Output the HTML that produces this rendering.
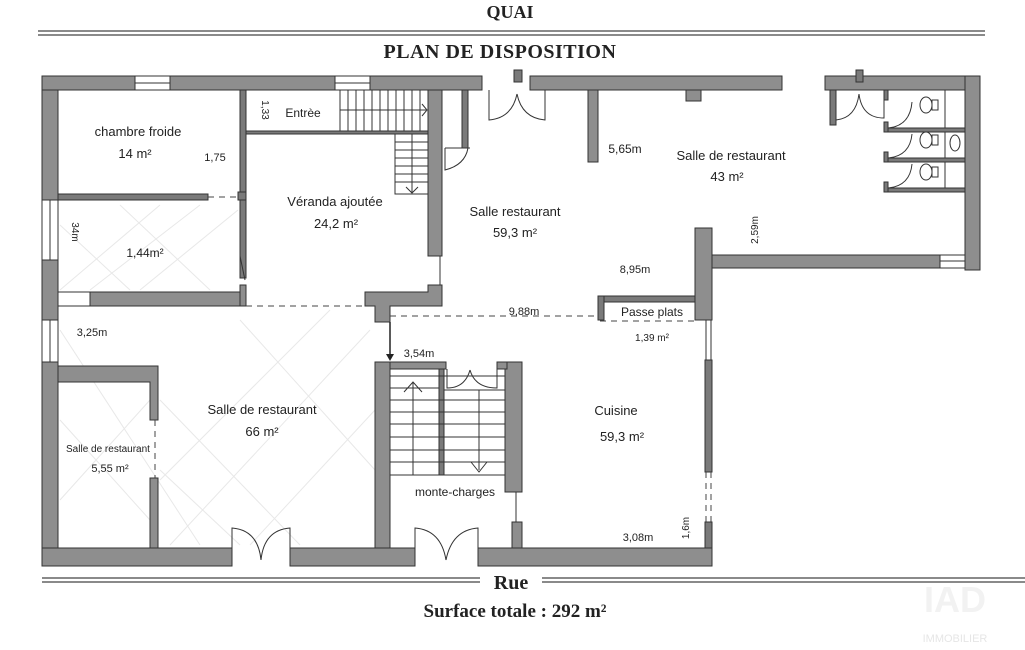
<!DOCTYPE html>
<html><head><meta charset="utf-8"><style>
html,body{margin:0;padding:0;background:#fff;width:1025px;height:650px;overflow:hidden}
svg{display:block}
.w{fill:#8e8e8e;stroke:#333;stroke-width:1}
.t{stroke:#333;stroke-width:1;fill:#7a7a7a}
.l{stroke:#333;stroke-width:1;fill:none}
.d{stroke:#444;stroke-width:1;fill:none;stroke-dasharray:6,5}
.g{stroke:#e8e8e8;stroke-width:1;fill:none}
text{font-family:"Liberation Sans",sans-serif;fill:#222}
.s{font-family:"Liberation Serif",serif;fill:#222}
</style></head><body>
<svg width="1025" height="650" viewBox="0 0 1025 650">
<text class="s" x="510" y="18" font-size="18" font-weight="bold" text-anchor="middle">QUAI</text>
<line x1="38" y1="31" x2="985" y2="31" stroke="#444" stroke-width="1.2"/>
<line x1="38" y1="35" x2="985" y2="35" stroke="#444" stroke-width="1.2"/>
<text class="s" x="500" y="58" font-size="20" font-weight="bold" text-anchor="middle" letter-spacing="0.5">PLAN DE DISPOSITION</text>

<g class="g">
<line x1="60" y1="290" x2="160" y2="205"/><line x1="90" y1="290" x2="200" y2="205"/><line x1="140" y1="290" x2="238" y2="210"/>
<line x1="60" y1="225" x2="130" y2="290"/><line x1="120" y1="205" x2="210" y2="290"/>
<line x1="60" y1="330" x2="200" y2="545"/><line x1="160" y1="400" x2="300" y2="545"/><line x1="160" y1="470" x2="240" y2="545"/>
<line x1="170" y1="545" x2="370" y2="330"/><line x1="160" y1="480" x2="330" y2="310"/><line x1="250" y1="545" x2="375" y2="410"/>
<line x1="60" y1="420" x2="150" y2="520"/><line x1="60" y1="500" x2="150" y2="400"/>
<line x1="240" y1="320" x2="375" y2="470"/>
</g>

<rect class="w" x="42" y="76" width="16" height="124"/>
<rect class="w" x="42" y="260" width="16" height="60"/>
<rect class="w" x="42" y="362" width="16" height="204"/>
<rect class="w" x="42" y="76" width="93" height="14"/>
<rect class="w" x="170" y="76" width="165" height="14"/>
<rect class="w" x="370" y="76" width="112" height="14"/>
<rect class="w" x="530" y="76" width="252" height="14"/>
<rect class="w" x="825" y="76" width="155" height="14"/>
<rect class="w" x="965" y="76" width="15" height="194"/>
<g class="l"><rect x="135" y="76" width="35" height="14"/><line x1="135" y1="83" x2="170" y2="83"/>
<rect x="335" y="76" width="35" height="14"/><line x1="335" y1="83" x2="370" y2="83"/>
<rect x="42" y="200" width="16" height="60"/><line x1="50" y1="200" x2="50" y2="260"/>
<rect x="42" y="320" width="16" height="42"/><line x1="50" y1="320" x2="50" y2="362"/>
<rect x="58" y="292" width="32" height="14"/><rect x="940" y="255" width="25" height="13"/><line x1="940" y1="261" x2="965" y2="261"/></g>
<rect class="w" x="42" y="548" width="190" height="18"/>
<rect class="w" x="290" y="548" width="125" height="18"/>
<rect class="w" x="478" y="548" width="234" height="18"/>
<g class="l"><path d="M232 548 V528 Q258 530 261 560"/><path d="M290 548 V528 Q264 530 261 560"/>
<path d="M415 548 V528 Q441 530 446 560"/><path d="M478 548 V528 Q452 530 446 560"/></g>

<rect class="t" x="240" y="90" width="6" height="102"/>
<rect class="t" x="58" y="194" width="150" height="6"/>
<line class="d" x1="208" y1="197" x2="240" y2="197"/>
<rect class="t" x="238" y="192" width="8" height="8"/>
<rect class="t" x="240" y="200" width="6" height="78"/>
<path class="l" d="M240 256 L245 280"/>
<rect class="w" x="90" y="292" width="156" height="14"/>
<rect class="w" x="240" y="285" width="6" height="21"/>
<line class="d" x1="246" y1="306" x2="365" y2="306"/>
<rect class="t" x="246" y="131" width="184" height="3"/>
<g class="l"><rect x="340" y="90" width="88" height="41"/>
<line x1="348" y1="90" x2="348" y2="131"/><line x1="356" y1="90" x2="356" y2="131"/><line x1="364" y1="90" x2="364" y2="131"/><line x1="372" y1="90" x2="372" y2="131"/><line x1="380" y1="90" x2="380" y2="131"/><line x1="388" y1="90" x2="388" y2="131"/><line x1="396" y1="90" x2="396" y2="131"/><line x1="404" y1="90" x2="404" y2="131"/><line x1="412" y1="90" x2="412" y2="131"/><line x1="420" y1="90" x2="420" y2="131"/>
<line x1="340" y1="110" x2="426" y2="110"/><path d="M422 104 L427 110 L422 116"/>
<rect x="395" y="134" width="33" height="60"/>
<line x1="395" y1="142" x2="428" y2="142"/><line x1="395" y1="150" x2="428" y2="150"/><line x1="395" y1="158" x2="428" y2="158"/><line x1="395" y1="166" x2="428" y2="166"/><line x1="395" y1="174" x2="428" y2="174"/><line x1="395" y1="182" x2="428" y2="182"/>
<line x1="412" y1="134" x2="412" y2="193"/><path d="M406 187 L412 193 L418 187"/></g>
<rect class="w" x="428" y="90" width="14" height="166"/>
<line class="l" x1="440" y1="256" x2="440" y2="285"/>
<rect class="t" x="462" y="90" width="6" height="58"/>
<path class="l" d="M445 148 H470 M445 148 V170 Q465 165 468 148"/>
<path class="w" d="M428 285 H442 V306 H390 V322 H375 V306 H365 V292 H428 Z"/>
<line class="d" x1="390" y1="316" x2="600" y2="316"/>
<line x1="390" y1="322" x2="390" y2="358" stroke="#222" stroke-width="1.5"/>
<path d="M386 354 L390 361 L394 354 Z" fill="#222"/>
<rect class="t" x="514" y="70" width="8" height="12"/>
<rect class="t" x="856" y="70" width="7" height="12"/>
<g class="l"><path d="M489 90 V120 Q512 118 517 94"/><path d="M545 90 V120 Q522 118 517 94"/>
<path d="M836 90 V120 Q856 118 859 94"/><path d="M884 90 V118 Q862 118 859 94"/></g>
<rect class="w" x="588" y="90" width="10" height="72"/>
<rect class="w" x="686" y="90" width="15" height="11"/>
<rect class="t" x="830" y="90" width="6" height="35"/>
<g class="t"><rect x="884" y="90" width="4" height="10"/><rect x="884" y="128" width="81" height="4"/><rect x="884" y="158" width="81" height="4"/><rect x="884" y="188" width="81" height="4"/><rect x="884" y="122" width="4" height="10"/><rect x="884" y="152" width="4" height="10"/><rect x="884" y="182" width="4" height="10"/></g>
<g class="l"><rect x="945" y="90" width="20" height="38"/><rect x="945" y="132" width="20" height="26"/><rect x="945" y="162" width="20" height="26"/>
<ellipse cx="926" cy="105" rx="6" ry="8"/><rect x="932" y="100" width="6" height="10"/>
<ellipse cx="926" cy="140" rx="6" ry="8"/><rect x="932" y="135" width="6" height="10"/>
<ellipse cx="926" cy="172" rx="6" ry="8"/><rect x="932" y="167" width="6" height="10"/>
<ellipse cx="955" cy="143" rx="5" ry="8"/>
<path d="M888 128 Q910 126 912 102"/><path d="M888 158 Q910 156 912 134"/><path d="M888 188 Q910 186 912 164"/></g>
<rect class="w" x="695" y="228" width="17" height="92"/>
<rect class="w" x="712" y="255" width="228" height="13"/>
<rect class="t" x="598" y="296" width="97" height="6"/>
<rect class="t" x="598" y="296" width="6" height="24"/>
<line class="d" x1="600" y1="321" x2="695" y2="321"/>
<line class="l" x1="706" y1="320" x2="706" y2="360"/>
<line class="l" x1="711" y1="320" x2="711" y2="360"/>
<rect class="t" x="705" y="360" width="7" height="112"/>
<line class="d" x1="706" y1="472" x2="706" y2="522"/><line class="d" x1="711" y1="472" x2="711" y2="522"/>
<rect class="t" x="705" y="522" width="7" height="26"/>
<path class="w" d="M58 366 H158 V420 H150 V382 H58 Z"/>
<rect class="w" x="150" y="478" width="8" height="70"/>
<line class="d" x1="155" y1="420" x2="155" y2="478"/>
<rect class="w" x="375" y="362" width="15" height="186"/>
<rect class="w" x="390" y="362" width="56" height="7"/>
<rect class="w" x="505" y="362" width="17" height="130"/>
<rect class="w" x="497" y="362" width="10" height="7"/>
<rect class="w" x="512" y="522" width="10" height="26"/>
<line class="l" x1="516" y1="492" x2="516" y2="522"/>
<rect class="t" x="439" y="369" width="5" height="106"/>
<g class="l"><line x1="390" y1="376" x2="505" y2="376"/><line x1="390" y1="388" x2="439" y2="388"/><line x1="444" y1="390" x2="505" y2="390"/>
<line x1="390" y1="400" x2="505" y2="400"/><line x1="390" y1="412" x2="505" y2="412"/><line x1="390" y1="424" x2="505" y2="424"/><line x1="390" y1="437" x2="505" y2="437"/><line x1="390" y1="450" x2="505" y2="450"/><line x1="390" y1="462" x2="505" y2="462"/><line x1="390" y1="475" x2="505" y2="475"/>
<line x1="413" y1="382" x2="413" y2="475"/><path d="M404 392 L413 382 L422 392"/>
<line x1="479" y1="390" x2="479" y2="470"/><path d="M471 462 L479 472 L487 462"/>
<path d="M447 369 V388 Q465 388 470 370"/><path d="M497 369 V388 Q475 388 470 370"/></g>

<line x1="42" y1="578" x2="480" y2="578" stroke="#444" stroke-width="1.2"/>
<line x1="42" y1="582" x2="480" y2="582" stroke="#444" stroke-width="1.2"/>
<line x1="542" y1="578" x2="1025" y2="578" stroke="#444" stroke-width="1.2"/>
<line x1="542" y1="582" x2="1025" y2="582" stroke="#444" stroke-width="1.2"/>
<text class="s" x="511" y="589" font-size="20" font-weight="bold" text-anchor="middle">Rue</text>
<text class="s" x="515" y="617" font-size="19" text-anchor="middle" font-weight="bold">Surface totale : 292 m²</text>
<text x="955" y="612" font-size="36" font-weight="bold" style="fill:#f2f2f2" text-anchor="middle">IAD</text>
<text x="955" y="642" font-size="11" style="fill:#e6e6e6" text-anchor="middle">IMMOBILIER</text>

<g font-size="13">
<text x="138" y="136" text-anchor="middle">chambre froide</text>
<text x="135" y="158" text-anchor="middle">14 m²</text>
<text x="215" y="161" text-anchor="middle" font-size="11">1,75</text>
<text x="303" y="117" text-anchor="middle" font-size="12">Entrèe</text>
<text transform="translate(262,110) rotate(90)" font-size="10" text-anchor="middle">1,33</text>
<text x="335" y="206" text-anchor="middle">Véranda ajoutée</text>
<text x="336" y="228" text-anchor="middle">24,2 m²</text>
<text transform="translate(72,232) rotate(90)" font-size="10" text-anchor="middle">34m</text>
<text x="145" y="257" text-anchor="middle" font-size="12">1,44m²</text>
<text x="515" y="216" text-anchor="middle">Salle restaurant</text>
<text x="515" y="237" text-anchor="middle">59,3 m²</text>
<text x="625" y="153" text-anchor="middle" font-size="12">5,65m</text>
<text x="731" y="160" text-anchor="middle">Salle de restaurant</text>
<text x="727" y="181" text-anchor="middle">43 m²</text>
<text transform="translate(758,230) rotate(-90)" font-size="10" text-anchor="middle">2,59m</text>
<text x="635" y="273" text-anchor="middle" font-size="11">8,95m</text>
<text x="524" y="315" text-anchor="middle" font-size="11">9,88m</text>
<text x="652" y="316" text-anchor="middle" font-size="12">Passe plats</text>
<text x="652" y="341" text-anchor="middle" font-size="10">1,39 m²</text>
<text x="92" y="336" text-anchor="middle" font-size="11">3,25m</text>
<text x="419" y="357" text-anchor="middle" font-size="11">3,54m</text>
<text x="262" y="414" text-anchor="middle">Salle de restaurant</text>
<text x="262" y="436" text-anchor="middle">66 m²</text>
<text x="108" y="452" text-anchor="middle" font-size="10">Salle de restaurant</text>
<text x="110" y="472" text-anchor="middle" font-size="11">5,55 m²</text>
<text x="616" y="415" text-anchor="middle">Cuisine</text>
<text x="622" y="441" text-anchor="middle">59,3 m²</text>
<text x="455" y="496" text-anchor="middle" font-size="12">monte-charges</text>
<text x="638" y="541" text-anchor="middle" font-size="11">3,08m</text>
<text transform="translate(689,528) rotate(-90)" font-size="10" text-anchor="middle">1,6m</text>
</g>
</svg>
</body></html>
